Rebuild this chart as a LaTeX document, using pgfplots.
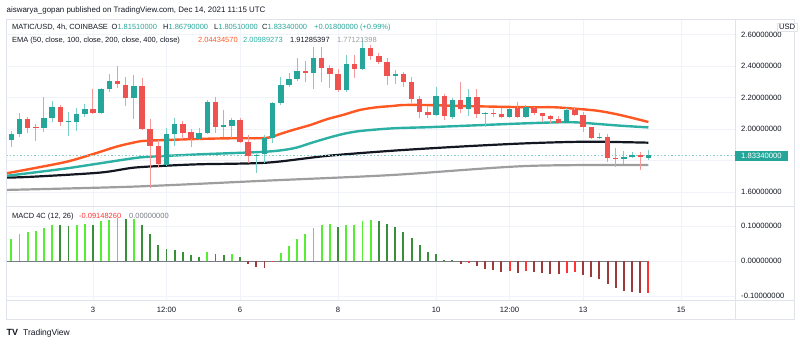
\documentclass[border=0pt]{standalone}
\usepackage{pgfplots}
\pgfplotsset{compat=1.18}
\usepackage{pgfplotstable}
\usepackage{fontspec}
\setmainfont{Liberation Sans}
\definecolor{upc}{HTML}{26A69A}
\definecolor{dnc}{HTML}{EF5350}
\definecolor{upw}{HTML}{7CCFC6}
\definecolor{dnw}{HTML}{F59A98}
\definecolor{e50}{HTML}{FF5722}
\definecolor{e100}{HTML}{2BB0A3}
\definecolor{e200}{HTML}{131722}
\definecolor{e400}{HTML}{9E9E9E}
\definecolor{tvtext}{HTML}{131722}
\definecolor{gridc}{HTML}{F0F3FA}
\definecolor{borderc}{HTML}{E0E3EB}
\definecolor{mlime}{HTML}{55EE33}
\definecolor{mgreen}{HTML}{3A8E3A}
\definecolor{mmaroon}{HTML}{9E3A3A}
\definecolor{mred}{HTML}{FF3333}
\definecolor{zgray}{HTML}{787B86}
\newcommand\fs{\fontsize{7.7}{9}\selectfont}
\newcommand\hs{\fontsize{7.95}{9}\selectfont}
\newcommand\ls{\fontsize{7.5}{9}\selectfont}

\pgfplotstableread{
k o h l c
-10 1.933 1.987 1.888 1.968
-9 1.968 2.100 1.951 2.062
-6 2.006 2.201 1.983 2.068
-5 2.070 2.180 2.046 2.138
-3 2.043 2.110 1.956 2.049
-2 2.045 2.131 1.989 2.095
-1 2.095 2.159 2.078 2.127
1 2.100 2.262 2.095 2.252
2 2.252 2.349 2.237 2.307
5 2.195 2.343 2.062 2.273
9 1.772 2.004 1.768 1.968
10 1.968 2.068 1.892 2.032
13 1.937 2.004 1.930 1.973
14 1.975 2.184 1.970 2.170
16 2.012 2.121 1.949 2.025
17 2.018 2.068 1.941 2.057
20 1.830 1.840 1.719 1.836
21 1.838 1.962 1.782 1.941
22 1.941 2.173 1.909 2.163
23 2.163 2.332 2.152 2.279
24 2.279 2.354 2.268 2.316
25 2.316 2.449 2.305 2.368
27 2.354 2.523 2.254 2.453
31 2.248 2.470 2.237 2.411
33 2.379 2.576 2.375 2.516
37 2.338 2.375 2.284 2.349
42 2.089 2.269 2.085 2.211
44 2.078 2.195 2.062 2.184
46 2.125 2.252 2.083 2.205
48 2.095 2.105 2.015 2.101
51 2.076 2.131 2.072 2.125
53 2.078 2.152 2.070 2.142
58 2.040 2.131 2.036 2.121
62 1.941 1.973 1.935 1.951
65 1.811 1.860 1.778 1.820
66 1.820 1.856 1.814 1.835
68 1.8151 1.8679 1.8051 1.8334
}\candUp

\pgfplotstableread{
k o h l c
-8 2.062 2.078 1.977 2.008
-7 2.010 2.032 1.926 2.004
-4 2.138 2.152 2.021 2.043
0 2.127 2.252 2.095 2.100
3 2.307 2.402 2.258 2.284
4 2.282 2.332 2.146 2.195
6 2.273 2.322 1.995 2.000
7 2.000 2.062 1.623 1.895
8 1.895 1.930 1.750 1.775
11 2.032 2.051 1.935 1.977
12 1.980 1.998 1.888 1.937
15 2.170 2.201 1.977 2.015
18 2.057 2.072 1.909 1.916
19 1.916 1.962 1.782 1.830
26 2.368 2.432 2.300 2.354
28 2.453 2.523 2.300 2.389
29 2.389 2.406 2.262 2.350
30 2.352 2.380 2.237 2.248
32 2.411 2.470 2.322 2.379
34 2.516 2.533 2.438 2.465
35 2.465 2.481 2.411 2.427
36 2.427 2.449 2.279 2.338
38 2.349 2.360 2.269 2.300
39 2.300 2.332 2.163 2.190
40 2.190 2.211 2.068 2.106
41 2.106 2.148 2.068 2.089
43 2.211 2.225 2.055 2.085
45 2.184 2.300 2.100 2.125
47 2.205 2.252 2.068 2.095
49 2.101 2.125 2.074 2.096
50 2.096 2.131 2.068 2.074
52 2.131 2.173 2.072 2.078
54 2.135 2.140 2.090 2.100
55 2.100 2.104 2.046 2.083
56 2.083 2.089 2.036 2.062
57 2.062 2.083 2.036 2.040
59 2.121 2.131 2.083 2.089
60 2.089 2.110 1.983 2.011
61 2.011 2.015 1.935 1.941
63 1.947 1.968 1.792 1.814
64 1.816 1.877 1.757 1.811
67 1.835 1.856 1.740 1.820
}\candDn

\begin{document}
\begin{tikzpicture}[x=1bp,y=1bp]
\path[use as bounding box] (0,0) rectangle (800,343);

\begin{axis}[
  at={(6bp,137bp)}, anchor=south west,
  width=729bp, height=187bp, scale only axis,
  xmin=-10.65, xmax=78.6, ymin=1.511, ymax=2.698,
  axis line style={draw=none}, tick style={draw=none},
  xtick={0,9,18,30,42,51,60,72}, xticklabels={},
  ytick={1.6,2.0,2.2,2.4,2.6},
  extra y ticks={1.8}, extra y tick labels={},
  yticklabel pos=right, scaled y ticks=false,
  grid=major, major grid style={draw=gridc, line width=0.8bp},
  extra y tick style={grid=major, major grid style={draw=gridc, line width=0.8bp}},
  yticklabel style={anchor=west, inner sep=0pt, xshift=6bp, font=\fs, text=tvtext,
    /pgf/number format/.cd, fixed, fixed zerofill, precision=8, assume math mode=true},
  clip=true,
]
% EMA lines
\addplot[e400, line width=2.2bp, smooth] coordinates {(-10.65,1.613)(4.93,1.634)(21.27,1.672)(36.7,1.708)(53.1,1.765)(68,1.7712)};
\addplot[e200, line width=2.2bp, smooth] coordinates {(-10.65,1.691)(-7.31,1.697)(0.86,1.723)(4.93,1.754)(9.02,1.767)(13.1,1.776)(21.27,1.786)(28.62,1.829)(36.7,1.862)(44.9,1.888)(53.1,1.909)(60.5,1.919)(68,1.9129)};
\addplot[e100, line width=2.4bp, smooth] coordinates {(-10.65,1.702)(-7.31,1.723)(-3.22,1.750)(0.86,1.782)(4.93,1.814)(6.98,1.824)(13.1,1.839)(21.27,1.856)(24.53,1.877)(26.57,1.909)(28.62,1.941)(30.6,1.968)(32.7,1.987)(36.7,2.004)(40.9,2.011)(44.9,2.019)(53.1,2.036)(58.4,2.043)(61.7,2.032)(64.5,2.021)(68,2.0099)};
\addplot[e50, line width=2.4bp, smooth] coordinates {(-10.65,1.718)(-7.31,1.750)(-3.22,1.792)(0.04,1.841)(2.9,1.888)(4.93,1.913)(6.16,1.924)(9.02,1.930)(13.1,1.937)(17.1,1.941)(20.4,1.941)(21.7,1.947)(22.9,1.968)(24.5,1.994)(26.6,2.025)(28.65,2.062)(30.6,2.089)(32.7,2.121)(34.8,2.138)(36.7,2.146)(38,2.152)(40.9,2.152)(44.9,2.146)(53.1,2.138)(56.3,2.138)(58.4,2.131)(61.7,2.116)(64.5,2.089)(68,2.0443)};
% current price line
\draw[upc!55, line width=0.6bp, dash pattern=on 1.5bp off 2bp] (axis cs:-10.65,1.8334) -- (axis cs:78.6,1.8334);
% wicks
\addplot[draw=none, mark=none, forget plot, error bars/.cd, y dir=plus, y explicit, error mark=none,
  error bar style={draw=upw, line width=1bp}] table[x=k, y=l, y error expr=\thisrow{h}-\thisrow{l}] {\candUp};
\addplot[draw=none, mark=none, forget plot, error bars/.cd, y dir=plus, y explicit, error mark=none,
  error bar style={draw=dnw, line width=1bp}] table[x=k, y=l, y error expr=\thisrow{h}-\thisrow{l}] {\candDn};
% bodies
\addplot[draw=none, mark=none, forget plot, error bars/.cd, y dir=plus, y explicit, error mark=none,
  error bar style={draw=upc, line width=5.4bp}] table[x=k, y=o, y error expr=\thisrow{c}-\thisrow{o}] {\candUp};
\addplot[draw=none, mark=none, forget plot, error bars/.cd, y dir=plus, y explicit, error mark=none,
  error bar style={draw=dnc, line width=5.4bp}] table[x=k, y=c, y error expr=\thisrow{o}-\thisrow{c}] {\candDn};
\end{axis}

\begin{axis}[
  at={(6bp,43bp)}, anchor=south west,
  width=729bp, height=94bp, scale only axis,
  xmin=-10.65, xmax=78.6, ymin=-0.1114, ymax=0.157,
  axis line style={draw=none}, tick style={draw=none},
  xtick={0,9,18,30,42,51,60,72}, xticklabels={3,12:00,6,8,10,12:00,13,15},
  ytick={-0.1,0,0.1},
  yticklabel pos=right, scaled y ticks=false,
  grid=major, major grid style={draw=gridc, line width=0.8bp},
  xticklabel style={anchor=center, inner sep=0pt, yshift=-10bp, font=\fs, text=tvtext},
  yticklabel style={anchor=west, inner sep=0pt, xshift=6bp, font=\fs, text=tvtext,
    /pgf/number format/.cd, fixed, fixed zerofill, precision=8, assume math mode=true},
  clip=true,
]
\draw[zgray, line width=0.8bp] (axis cs:-10.65,0) -- (axis cs:68,0);
\addplot[ycomb, mlime, line width=1.9bp, mark=none] coordinates {(-10,0.062)(-9,0.076)(-8,0.083)(-7,0.086)(-6,0.093)(-5,0.104)(-2,0.103)(-1,0.105)(1,0.113)(2,0.118)(3,0.123)(5,0.121)(14,0.025)(17,0.020)(23,0.023)(24,0.042)(25,0.063)(26,0.077)(27,0.094)(28,0.103)(29,0.105)(31,0.103)(32,0.104)(33,0.113)(34,0.116)};
\addplot[ycomb, mgreen, line width=1.9bp, mark=none] coordinates {(-4,0.103)(-3,0.100)(0,0.103)(4,0.120)(6,0.102)(7,0.076)(8,0.045)(9,0.035)(10,0.032)(11,0.026)(12,0.016)(13,0.011)(15,0.021)(16,0.018)(18,0.010)(30,0.096)(35,0.113)(36,0.105)(37,0.096)(38,0.084)(39,0.066)(40,0.045)(41,0.025)(42,0.019)(43,0.004)(44,0.0015)};
\addplot[ycomb, mmaroon, line width=1.9bp, mark=none] coordinates {(19,-0.008)(20,-0.017)(21,-0.019)(45,-0.008)(47,-0.015)(48,-0.023)(49,-0.027)(50,-0.031)(52,-0.033)(54,-0.032)(55,-0.035)(56,-0.036)(57,-0.038)(60,-0.040)(61,-0.046)(62,-0.052)(63,-0.066)(64,-0.078)(65,-0.085)(66,-0.088)(67,-0.092)};
\addplot[ycomb, mred, line width=1.9bp, mark=none] coordinates {(22,-0.004)(46,-0.006)(51,-0.030)(53,-0.030)(58,-0.033)(59,-0.032)(68,-0.0915)};
\end{axis}

% frame
\draw[borderc, line width=0.8bp] (6,24) rectangle (794,324);
\draw[borderc, line width=0.8bp] (6,137) -- (794,137);
\draw[borderc, line width=0.8bp] (6,43) -- (794,43);
\draw[borderc, line width=0.8bp] (735,24) -- (735,324);

% current price label
\fill[upc] (735,182.3) rectangle (788,192.3);
\node[anchor=west, inner sep=0pt, font=\fs, text=white] at (741,187.3) {1.83340000};

% USD label
\node[anchor=east, inner sep=1.5pt, font=\fs, text=tvtext, fill=white, draw=borderc, line width=0.5bp] at (797,316) {USD};

% headers
\begin{scope}[every node/.style={anchor=base west, inner sep=0pt, font=\ls, text=tvtext}]
\node[font=\hs] at (6.5,330.2) {aiswarya\_gopan published on TradingView.com, Dec 14, 2021 11:15 UTC};
\node at (12,313.2) {MATIC/USD, 4h, COINBASE};
\node at (111.5,313.2) {O\textcolor{upc}{1.81510000}};
\node at (163,313.2) {H\textcolor{upc}{1.86790000}};
\node at (214,313.2) {L\textcolor{upc}{1.80510000}};
\node at (262,313.2) {C\textcolor{upc}{1.83340000}};
\node[text=upc] at (314,313.2) {+0.01800000 (+0.99\%)};
\node at (12,300.2) {EMA (50, close, 100, close, 200, close, 400, close)};
\node[text=e50] at (198,300.2) {2.04434570};
\node[text=e100] at (243,300.2) {2.00989273};
\node at (290,300.2) {1.91285397};
\node[text=e400] at (337,300.2) {1.77121398};
\node at (12,124.2) {MACD 4C (12, 26)};
\node[text=mred] at (79,124.2) {-0.09148260};
\node[text=zgray] at (129,124.2) {0.00000000};
\node[font=\fontsize{9}{10}\selectfont\bfseries] at (6.5,7.8) {TV};
\node[font=\fontsize{8.5}{10}\selectfont] at (23,7.8) {TradingView};
\end{scope}
\end{tikzpicture}
\end{document}
